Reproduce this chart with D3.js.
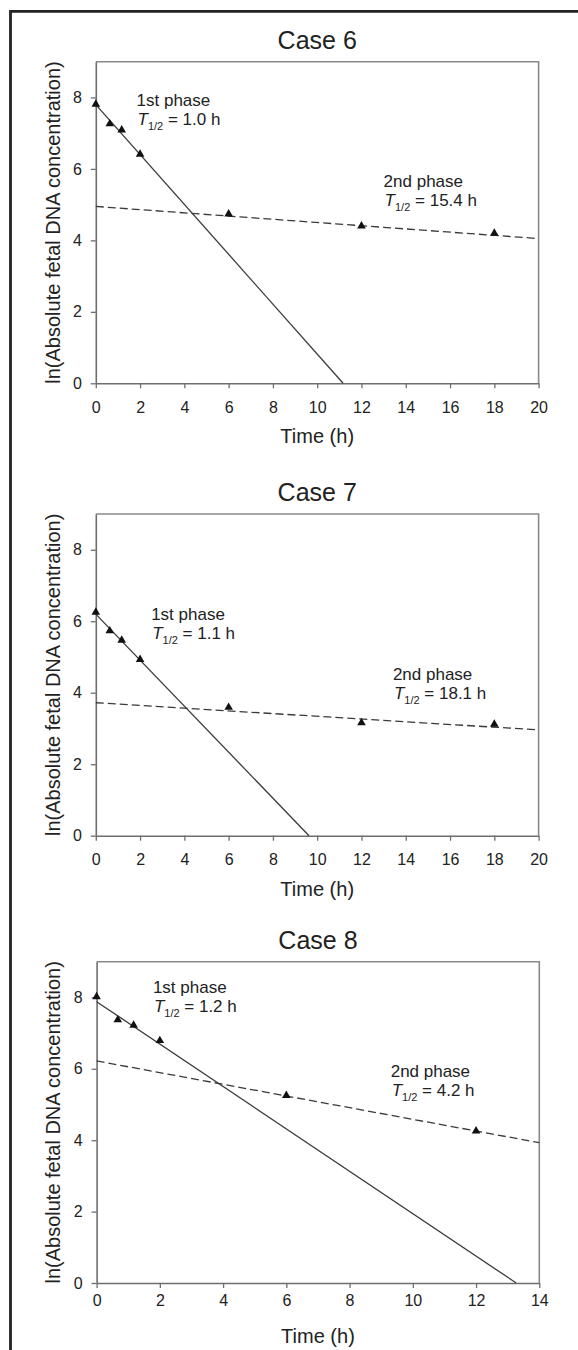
<!DOCTYPE html>
<html><head><meta charset="utf-8">
<script src="https://cdn.jsdelivr.net/npm/d3@7"></script>
<style>
html,body{margin:0;padding:0;background:#fff;}
svg{display:block;}
text{font-family:"Liberation Sans",Arial,Helvetica,sans-serif;fill:#222;}
</style></head>
<body>
<svg id="chart" width="578" height="1350"></svg>
<script>
// ---------- DATA ----------
const caseTitles = ["Case 6", "Case 7", "Case 8"];
const xMax = [20, 20, 14];
const xTicks6 = [0,2,4,6,8,10,12,14,16,18,20];
const xTicks7 = [0,2,4,6,8,10,12,14,16,18,20];
const xTicks8 = [0,2,4,6,8,10,12,14];
const yTicks = [0,2,4,6,8];

const times6 = [0, 0.63, 1.17, 2, 6, 12, 18];
const values6 = [7.81, 7.26, 7.09, 6.41, 4.74, 4.40, 4.20];
const times7 = [0, 0.63, 1.17, 2, 6, 12, 18];
const values7 = [6.25, 5.73, 5.47, 4.93, 3.59, 3.16, 3.12];
const times8 = [0, 0.67, 1.17, 2, 6, 12];
const values8 = [8.02, 7.37, 7.22, 6.79, 5.25, 4.26];

// fitted phase lines: [time, value] endpoints
const fast6 = [[0, 7.80], [11.17, 0]];
const slow6 = [[0, 4.95], [20, 4.05]];
const fast7 = [[0, 6.20], [9.63, 0]];
const slow7 = [[0, 3.72], [20, 2.96]];
const fast8 = [[0, 7.88], [13.27, 0]];
const slow8 = [[0, 6.22], [14, 3.93]];

const halfLife1 = ["1.0", "1.1", "1.2"];
const halfLife2 = ["15.4", "18.1", "4.2"];
// annotation anchor points in data units [t, value]
const note1Pos = [[1.84, 7.76], [2.5, 6.04], [1.78, 8.11]];
const note2Pos = [[13.0, 5.49], [13.42, 4.36], [9.3, 5.77]];

// ---------- LAYOUT ----------
const layout = [
  {top: 61.7, bottom: 383.3, left: 95.8, right: 538.6, tickPad: 13},
  {top: 514.0, bottom: 835.7, left: 95.8, right: 538.6, tickPad: 13},
  {top: 961.7, bottom: 1283.0, left: 96.6, right: 539.3, tickPad: 7}
];

const svg = d3.select("#chart");

// outer frame (top and left edges visible)
svg.append("path")
  .attr("d", "M10.5,1352 L10.5,11.3 L580,11.3")
  .attr("fill", "none").attr("stroke", "#222").attr("stroke-width", 2.8);

const panels = [
  {times: times6, values: values6, fast: fast6, slow: slow6, xt: xTicks6},
  {times: times7, values: values7, fast: fast7, slow: slow7, xt: xTicks7},
  {times: times8, values: values8, fast: fast8, slow: slow8, xt: xTicks8}
];

panels.forEach((p, i) => {
  const L = layout[i];
  const x = d3.scaleLinear().domain([0, xMax[i]]).range([L.left, L.right]);
  const y = d3.scaleLinear().domain([0, 9]).range([L.bottom, L.top]);
  const g = svg.append("g");

  // plot box (top & right)
  g.append("path")
    .attr("d", `M${L.left},${L.top} L${L.right},${L.top} L${L.right},${L.bottom}`)
    .attr("fill", "none").attr("stroke", "#8a8a8a").attr("stroke-width", 1.6);

  // axes
  const xAxis = d3.axisBottom(x).tickValues(p.xt).tickSize(5).tickPadding(L.tickPad).tickSizeOuter(0);
  const gx = g.append("g").attr("transform", `translate(0,${L.bottom})`).call(xAxis);
  const yAxis = d3.axisLeft(y).tickValues(yTicks).tickSize(5).tickPadding(9).tickSizeOuter(0);
  const gy = g.append("g").attr("transform", `translate(${L.left},0)`).call(yAxis);
  [gx, gy].forEach(a => {
    a.select(".domain").attr("stroke", "#6e6e6e").attr("stroke-width", 1.6);
    a.selectAll(".tick line").attr("stroke", "#6e6e6e").attr("stroke-width", 1.3);
    a.selectAll(".tick text").attr("font-size", 16).attr("fill", "#222")
      .attr("font-family", '"Liberation Sans",Arial,sans-serif');
  });

  // title
  g.append("text").attr("x", (L.left + L.right) / 2).attr("y", L.top - 13)
    .attr("text-anchor", "middle").attr("font-size", 25).text(caseTitles[i]);

  // x label
  g.append("text").attr("x", (L.left + L.right) / 2).attr("y", L.bottom + 60)
    .attr("text-anchor", "middle").attr("font-size", 20).text("Time (h)");

  // y label
  g.append("text")
    .attr("transform", `translate(59.6,${(L.top + L.bottom) / 2}) rotate(-90)`)
    .attr("text-anchor", "middle").attr("font-size", 20)
    .text("ln(Absolute fetal DNA concentration)");

  // fitted lines
  const line = d3.line().x(d => x(d[0])).y(d => y(d[1]));
  g.append("path").datum(p.fast).attr("d", line)
    .attr("fill", "none").attr("stroke", "#3a3a3a").attr("stroke-width", 1.3);
  g.append("path").datum(p.slow).attr("d", line)
    .attr("fill", "none").attr("stroke", "#3a3a3a").attr("stroke-width", 1.3)
    .attr("stroke-dasharray", "8,4");

  // markers
  const tri = d3.symbol().type(d3.symbolTriangle).size(32);
  g.selectAll("path.pt").data(p.times.map((t, k) => [t, p.values[k]]))
    .enter().append("path").attr("class", "pt")
    .attr("d", tri)
    .attr("transform", d => `translate(${x(d[0])},${y(d[1])})`)
    .attr("fill", "#111");

  // annotations
  function note(pos, phase, hl) {
    const ax = x(pos[0]), ay = y(pos[1]);
    g.append("text").attr("x", ax).attr("y", ay).attr("font-size", 17).text(phase);
    const t = g.append("text").attr("x", ax + 1).attr("y", ay + 19).attr("font-size", 17);
    t.append("tspan").attr("font-style", "italic").text("T");
    t.append("tspan").attr("font-size", 11).attr("dy", 5).text("1/2");
    t.append("tspan").attr("dy", -5).text(" = " + hl + " h");
  }
  note(note1Pos[i], "1st phase", halfLife1[i]);
  note(note2Pos[i], "2nd phase", halfLife2[i]);
});
</script>
</body></html>
